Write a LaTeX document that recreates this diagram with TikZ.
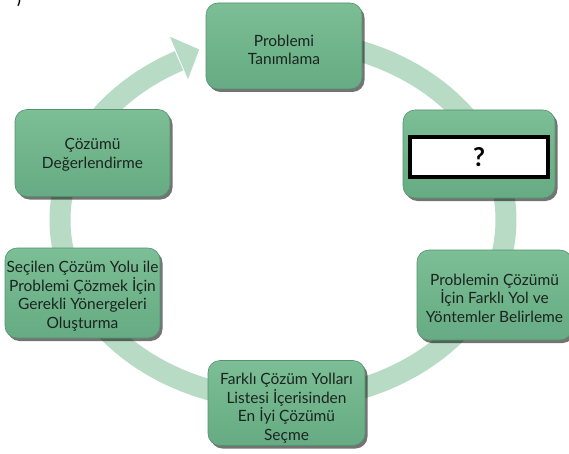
\documentclass[tikz,border=0pt]{standalone}
\usepackage{fontspec}
\setmainfont{Lato}
\usetikzlibrary{shadows}
\definecolor{ringgreen}{HTML}{B7DBC5}
\definecolor{boxtop}{HTML}{7CBE96}
\definecolor{boxbot}{HTML}{66AB83}
\definecolor{boxedge}{HTML}{55936E}
\definecolor{txt}{HTML}{1A241F}
\tikzset{
  stepbox/.style={rectangle, rounded corners=12pt, top color=boxtop, bottom color=boxbot,
    draw=boxedge, line width=0.6pt, inner sep=0pt,
    drop shadow={shadow xshift=2.5pt, shadow yshift=-3pt, fill=black, opacity=.55}},
  steptext/.style={inner sep=0pt, align=center, text=txt,
    font=\fontsize{15.5}{18.6}\selectfont},
  ring/.style={line width=21pt, color=ringgreen}
}
\begin{document}
\begin{tikzpicture}[x=1pt,y=-1pt]
\useasboundingbox (0,0) rectangle (569,454);
% cycle ring
\draw[ring]
  plot[domain=-80:242.2, samples=180] ({283+223*cos(\x)},{220+180*sin(\x)});
% arrowhead of the ring
\fill[ringgreen] (170,36.8) -- (199.2,49.4) -- (188,79.2) -- cycle;
% boxes
\node[stepbox, minimum width=156pt, minimum height=86pt] (b1) at (284,46) {};
\node[stepbox, minimum width=152pt, minimum height=88pt] (b2) at (479,154) {};
\node[stepbox, minimum width=155pt, minimum height=90pt] (b3) at (494.5,295) {};
\node[stepbox, minimum width=157pt, minimum height=85pt] (b4) at (286.5,403) {};
\node[stepbox, minimum width=155pt, minimum height=90pt] (b5) at (82.5,293) {};
\node[stepbox, minimum width=155pt, minimum height=87pt] (b6) at (92.5,153) {};
% texts
\node[steptext] (t1) at ([yshift=-4pt]b1.center) {Problemi\\Tanımlama};
\node[steptext] (t3) at ([yshift=-3pt]b3.center) {Problemin Çözümü\\İçin Farklı Yol ve\\Yöntemler Belirleme};
\node[steptext] (t4) at ([yshift=-5pt]b4.center) {Farklı Çözüm Yolları\\Listesi İçerisinden\\En İyi Çözümü\\Seçme};
\node[steptext] (t5) at ([yshift=-3pt]b5.center) {Seçilen Çözüm Yolu ile\\Problemi Çözmek İçin\\Gerekli Yönergeleri\\Oluşturma};
\node[steptext] (t6) at ([yshift=-2pt]b6.center) {Çözümü\\Değerlendirme};
% question field
\node[draw=black, line width=4pt, fill=white, minimum width=138pt, minimum height=40pt, inner sep=0pt,
  font=\fontsize{26}{26}\bfseries\selectfont] (q) at ([yshift=-3pt]b2.center) {?};
% fragment of a label at the top-left edge
\node[anchor=south, inner sep=0pt, font=\fontsize{14}{14}\bfseries\selectfont] (frag) at (19,7) {)};
\end{tikzpicture}
\end{document}
